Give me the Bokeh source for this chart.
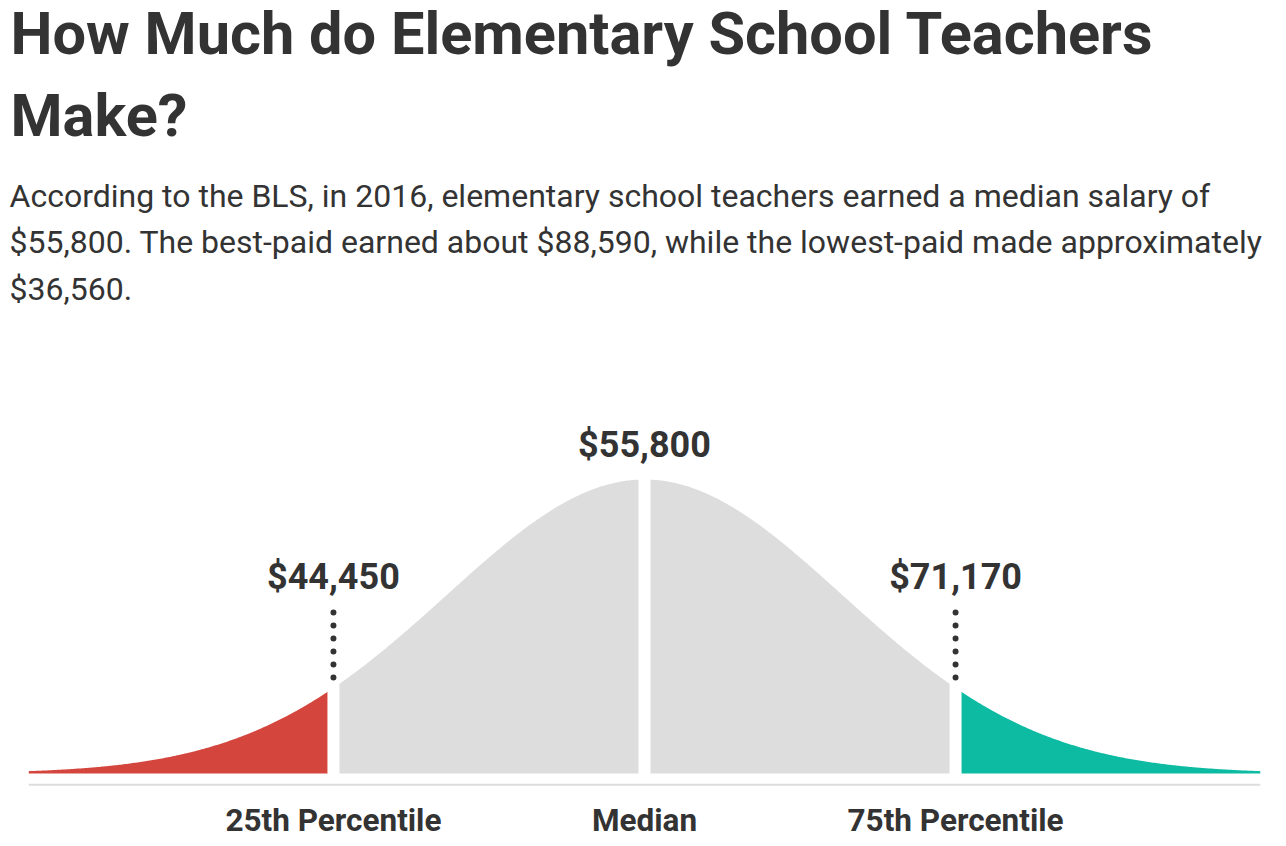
import numpy as np
from bokeh.plotting import figure
from bokeh.models import Range1d
from bokeh.core.properties import value
from bokeh.embed import file_html
from bokeh.resources import INLINE

# ---- data ----
title_lines = ["How Much do Elementary School Teachers", "Make?"]
subtitle_lines = [
    "According to the BLS, in 2016, elementary school teachers earned a median salary of",
    "$55,800. The best-paid earned about $88,590, while the lowest-paid made approximately",
    "$36,560.",
]
marker_names = ["25th Percentile", "Median", "75th Percentile"]
marker_salaries = ["$44,450", "$55,800", "$71,170"]
marker_z = [-1.571, 0.0, 1.571]          # position on the bell curve (std units)
curve_start, curve_end = -3.11, 3.11
segment_colors = ["#d4463d", "#dddddd", "#dddddd", "#0cbba2"]

TEXT = "#333333"
FONT = value("Roboto")

# px mapping helpers (layout only)
PX_X = 198.0
PX_Y = 294.0
def dx(sx):
    return (sx - 644) / PX_X
def dy(sy):
    return (773 - sy) / PX_Y
def base(sy, fs):
    # baseline correction for rendered text
    return dy(sy - 0.4 * fs)

p = figure(width=1286, height=846, output_backend="svg", toolbar_location=None,
           x_range=Range1d(dx(0), dx(1286)), y_range=Range1d(dy(846), dy(0)),
           min_border=0, outline_line_color=None, background_fill_color="white",
           border_fill_color="white")
p.axis.visible = False
p.xgrid.visible = False
p.ygrid.visible = False

# ---- bell curve segments ----
bounds = [curve_start] + marker_z + [curve_end]
for i in range(4):
    z = np.linspace(bounds[i], bounds[i + 1], 200)
    p.varea(x=z, y1=np.zeros_like(z), y2=np.exp(-z ** 2 / 2), fill_color=segment_colors[i])

# white gaps at split points
top = [np.exp(-z ** 2 / 2) + 0.02 for z in marker_z]
p.segment(x0=marker_z, x1=marker_z, y0=[-0.01] * 3, y1=top, line_color="white", line_width=12)

# baseline rule
p.segment(x0=[curve_start], x1=[curve_end], y0=[dy(784.3)], y1=[dy(784.3)],
          line_color="#dddddd", line_width=2)

# dotted leaders for quartiles
q = [marker_z[0], marker_z[2]]
p.segment(x0=q, x1=q, y0=[dy(612)] * 2, y1=[dy(677.5)] * 2, line_color=TEXT,
          line_width=6, line_dash="0 13", line_cap="round")

# salary labels
FS_SAL = 36
p.text(x=marker_z, y=[base(591, FS_SAL), base(459, FS_SAL), base(591, FS_SAL)],
       text=marker_salaries, text_font=FONT, text_font_style="bold",
       text_font_size=f"{FS_SAL}px", text_color=TEXT, text_align="center",
       text_baseline="alphabetic")

# bottom labels
FS_NAME = 31.5
p.text(x=marker_z, y=[base(833, FS_NAME)] * 3, text=marker_names, text_font=FONT,
       text_font_style="bold", text_font_size=f"{FS_NAME}px", text_color=TEXT,
       text_align="center", text_baseline="alphabetic")

# title
FS_T = 59.5
p.text(x=[dx(10)] * 2, y=[base(57, FS_T), base(139.5, FS_T)], text=title_lines,
       text_font=FONT, text_font_style="bold", text_font_size=f"{FS_T}px",
       text_color=TEXT, text_align="left", text_baseline="alphabetic")

# subtitle
FS_S = 32
p.text(x=[dx(9)] * 3, y=[base(208, FS_S), base(254, FS_S), base(301, FS_S)],
       text=subtitle_lines, text_font=FONT, text_font_size=f"{FS_S}px",
       text_color=TEXT, text_align="left", text_baseline="alphabetic")

open("out.html", "w").write(file_html(p, INLINE))
